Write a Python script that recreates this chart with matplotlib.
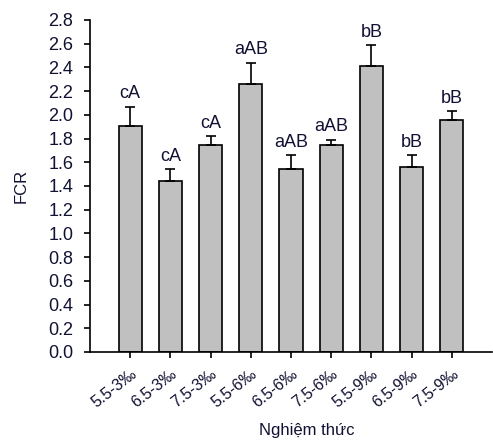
import matplotlib
matplotlib.use("Agg")
import matplotlib.pyplot as plt
import numpy as np

plt.rcParams['font.family'] = ['Liberation Sans', 'DejaVu Sans']

treatments = ["5.5-3‰", "6.5-3‰", "7.5-3‰", "5.5-6‰", "6.5-6‰",
              "7.5-6‰", "5.5-9‰", "6.5-9‰", "7.5-9‰"]
fcr = [1.91, 1.44, 1.75, 2.26, 1.54, 1.75, 2.41, 1.56, 1.96]
fcr_err = [0.16, 0.10, 0.07, 0.18, 0.12, 0.04, 0.18, 0.10, 0.07]
letters = ["cA", "cA", "cA", "aAB", "aAB", "aAB", "bB", "bB", "bB"]
yticks = np.arange(0, 2.81, 0.2)

fig = plt.figure(figsize=(4.93, 4.42), dpi=100)
ax = fig.add_axes([90 / 493, 90 / 442, 402 / 493, 332 / 442])

x = np.arange(len(treatments))
ax.bar(x, fcr, width=0.58, color='#c0c0c0', edgecolor='black', linewidth=1.2, zorder=2)
ax.errorbar(x, fcr, yerr=[np.zeros(len(fcr)), fcr_err], fmt='none',
            ecolor='black', elinewidth=1.2, capsize=3.5, capthick=1.2, zorder=3)

for xi, v, e, lab in zip(x, fcr, fcr_err, letters):
    ax.annotate(lab, (xi, v + e), xytext=(0, 6), textcoords='offset points',
                ha='center', va='baseline', fontsize=13, color='#111133')

ax.set_xlim(-1, 9)
ax.set_ylim(0, 2.8)
ax.set_yticks(yticks)
ax.set_yticklabels([f"{t:.1f}" for t in yticks], fontsize=13, color='#111133')
ax.set_xticks(x)
ax.set_xticklabels(treatments, rotation=38, ha='right', rotation_mode='anchor',
                   fontsize=11.5, color='#111133')
ax.tick_params(axis='y', direction='out', length=4, width=1.2, pad=8)
ax.tick_params(axis='x', direction='out', length=4, width=1.2, pad=6)

for s in ['top', 'right']:
    ax.spines[s].set_visible(False)
for s in ['left', 'bottom']:
    ax.spines[s].set_linewidth(1.2)

ax.set_ylabel("FCR", fontsize=12, color='#111133', va='center')
ax.yaxis.set_label_coords(-0.172, 0.5)
ax.set_xlabel("Nghiệm thức", fontsize=12, color='#111133', va='center')
ax.xaxis.set_label_coords(0.54, -0.235)

fig.savefig("out.png", dpi=100)
